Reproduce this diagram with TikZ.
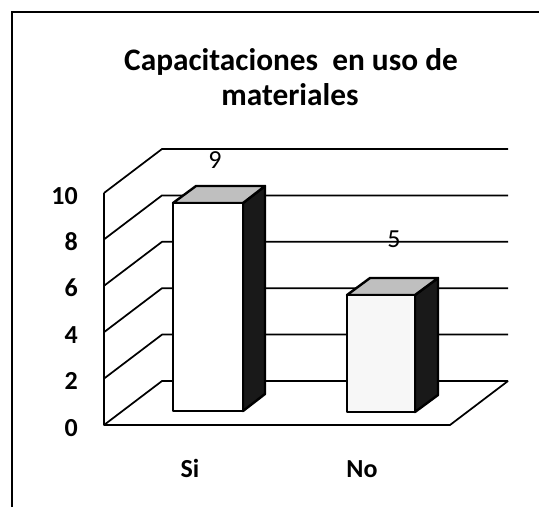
\documentclass[tikz,border=0pt]{standalone}
\usepackage{fontspec}
\setmainfont{Carlito}
\begin{document}
\begin{tikzpicture}[x=0.75pt,y=-0.75pt,
  frame/.style={line width=1.5pt},
  grid/.style={line width=1.3pt, line join=round},
  baredge/.style={line width=1.8pt, line join=round},
  ticklabel/.style={font=\fontsize{19.5}{22}\selectfont\bfseries, anchor=base east, inner sep=0pt},
  catlabel/.style={font=\fontsize{19.5}{22}\selectfont\bfseries, anchor=base, inner sep=0pt},
  datalabel/.style={font=\fontsize{19.5}{22}\selectfont, anchor=base, inner sep=0pt},
  titlestyle/.style={font=\fontsize{23.5}{26}\selectfont\bfseries, anchor=base, inner sep=0pt}]
\useasboundingbox (0,0) rectangle (539,507);
% frame
\coordinate (frameBL) at (12,507);
\coordinate (frameTL) at (12,12);
\coordinate (frameTR) at (539,12);
\draw[frame] (frameBL) -- (frameTL) -- (frameTR);
% title
\node[titlestyle] (title1) at (291,70) {Capacitaciones\ \ en uso de};
\node[titlestyle] (title2) at (290,105) {materiales};
% walls and grid
\coordinate (floorFL) at (104,425);
\coordinate (floorFR) at (450,425);
\coordinate (floorBR) at (508,381);
\coordinate (wallTop) at (104,193);
\foreach \k in {0,2,...,10}{
  \coordinate (front\k) at (104,{425-23.2*\k});
  \coordinate (back\k) at (162,{381-23.2*\k});
  \coordinate (backR\k) at (508,{381-23.2*\k});
  \draw[grid] (front\k) -- (back\k) -- (backR\k);
  \node[ticklabel] (tick\k) at (78,{436-23.2*\k}) {\k};
}
\draw[grid] (wallTop) -- (floorFL) -- (floorFR) -- (floorBR);
% bar Si
\coordinate (siBL) at (173,411);
\coordinate (siTR) at (243,203);
\draw[baredge, fill=black!90] (243,411) -- (265,394) -- (265,186) -- (243,203) -- cycle;
\draw[baredge, fill=gray!50] (173,203) -- (196,186) -- (265,186) -- (243,203) -- cycle;
\draw[baredge, fill=white] (siBL) rectangle (siTR);
% bar No
\coordinate (noBL) at (347,412);
\coordinate (noTR) at (415,295);
\draw[baredge, fill=black!90] (415,412) -- (438,395) -- (438,278) -- (415,295) -- cycle;
\draw[baredge, fill=gray!50] (347,295) -- (370,278) -- (438,278) -- (415,295) -- cycle;
\draw[baredge, fill=gray!6] (noBL) rectangle (noTR);
% data labels
\node[datalabel] (val9) at (215,168) {9};
\node[datalabel] (val5) at (394,247) {5};
% category labels
\node[catlabel] (catSi) at (190,477) {Si};
\node[catlabel] (catNo) at (362,477) {No};
\end{tikzpicture}
\end{document}
